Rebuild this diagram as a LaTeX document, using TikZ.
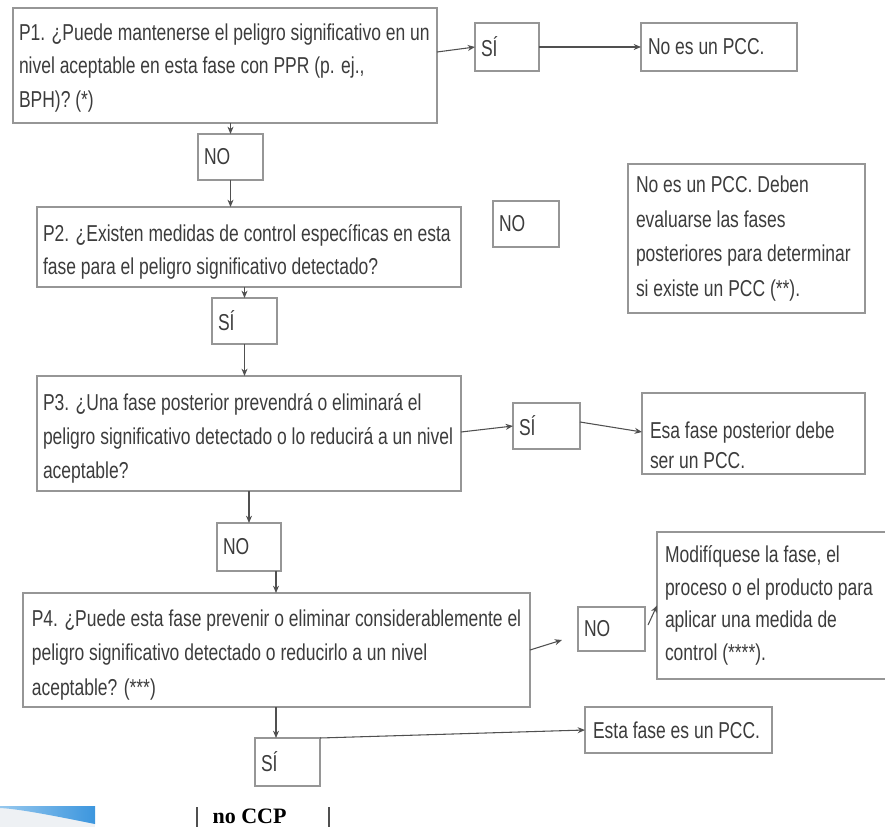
\documentclass[tikz,border=0pt]{standalone}
\usepackage{fontspec}
\setmainfont[FakeStretch=0.76]{Liberation Sans}
\newfontfamily\serifb{Liberation Serif}
\usetikzlibrary{arrows.meta,calc}
\definecolor{boxc}{RGB}{150,150,150}
\definecolor{txtc}{RGB}{60,60,60}
\definecolor{arrc}{RGB}{80,80,80}
\definecolor{swblue}{RGB}{60,150,222}
\definecolor{swlight}{RGB}{150,200,238}
\definecolor{swgray}{RGB}{238,241,244}
\begin{document}
\begin{tikzpicture}[x=0.75pt,y=-0.75pt,
  box/.style={draw=boxc, line width=0.9pt, inner sep=0pt, outer sep=0pt, fill=white, text=txtc,
    font=\fontsize{17.25}{25}\selectfont, align=flush left, anchor=north west},
  arr/.style={draw=arrc, line width=0.8pt, -{Stealth[length=5.5pt,width=4.5pt]}},
  bar/.style={draw=arrc, line width=1.3pt}]
\useasboundingbox (0,0) rectangle (885,827);
\clip (0,0) rectangle (885,827);

% boxes
\node[box, minimum width=318pt, minimum height=86.25pt, text width=309pt] (p1) at (13,8)
  {\mbox{\rule{0pt}{16pt}P1. ¿Puede mantenerse el peligro significativo en un}\\\mbox{nivel aceptable en esta fase con PPR (p. ej.,}\\\mbox{BPH)? (*)}};
\node[box, minimum width=48pt, minimum height=36pt, text width=39pt] (si1) at (475,23) {SÍ};
\node[box, minimum width=117pt, minimum height=36pt, text width=106.5pt] (pcc1) at (641,23) {\mbox{No es un PCC.}};
\node[box, minimum width=48.75pt, minimum height=34.5pt, text width=39.75pt] (no1) at (198,134) {NO};
\node[box, minimum width=318pt, minimum height=60pt, text width=309pt] (p2) at (37,207)
  {\mbox{\rule{0pt}{20pt}P2. ¿Existen medidas de control específicas en esta}\\\mbox{fase para el peligro significativo detectado?}};
\node[box, minimum width=49.5pt, minimum height=34.5pt, text width=40.5pt] (no2) at (493,201) {NO};
\node[box, minimum width=177.75pt, minimum height=111.75pt, text width=165.75pt, font=\fontsize{17.25}{26}\selectfont] (npcc) at (628,164)
  {\mbox{No es un PCC. Deben}\\\mbox{evaluarse las fases}\\\mbox{posteriores para determinar}\\\mbox{si existe un PCC (**).}};
\node[box, minimum width=48.75pt, minimum height=34.5pt, text width=39.75pt] (si2) at (212,298) {SÍ};
\node[box, minimum width=318pt, minimum height=86.25pt, text width=309pt, font=\fontsize{17.25}{25.5}\selectfont] (p3) at (37,376)
  {\mbox{\rule{0pt}{20pt}P3. ¿Una fase posterior prevendrá o eliminará el}\\\mbox{peligro significativo detectado o lo reducirá a un nivel}\\\mbox{aceptable?}};
\node[box, minimum width=50.25pt, minimum height=34.5pt, text width=41.25pt] (si3) at (513,403) {SÍ};
\node[box, minimum width=167.25pt, minimum height=60.75pt, text width=155.25pt, font=\fontsize{17.25}{22}\selectfont] (esa) at (642,393)
  {\mbox{\rule{0pt}{30pt}Esa fase posterior debe}\\\mbox{ser un PCC.}};
\node[box, minimum width=48pt, minimum height=36pt, text width=39pt] (no3) at (217,523) {NO};
\node[box, minimum width=380.25pt, minimum height=85.5pt, text width=367pt, font=\fontsize{17.25}{26}\selectfont] (p4) at (23,593)
  {\mbox{\rule{0pt}{20pt}P4. ¿Puede esta fase prevenir o eliminar considerablemente el}\\\mbox{peligro significativo detectado o reducirlo a un nivel}\\\mbox{aceptable? (***)}};
\node[box, minimum width=50.25pt, minimum height=33pt, text width=41.25pt] (no4) at (578,607) {NO};
\node[box, minimum width=174.75pt, minimum height=110.25pt, text width=162.75pt, font=\fontsize{17.25}{24.5}\selectfont] (mod) at (657,532)
  {\mbox{Modifíquese la fase, el}\\\mbox{proceso o el producto para}\\\mbox{aplicar una medida de}\\\mbox{control (****).}};
\node[box, minimum width=48.75pt, minimum height=36pt, text width=39.75pt] (si4) at (255,738) {SÍ};
\node[box, minimum width=140.25pt, minimum height=34.5pt, text width=128.25pt] (esta) at (585,707) {\mbox{Esta fase es un PCC.}};

% connectors
\draw[arr] ($(p1.north east)+(0,44)$) -- (si1.west);
\draw[arr] (si1.east) -- (pcc1.west);
\draw[arr] (no1.north |- p1.south) -- (no1.north);
\draw[arr] (no1.south) -- (no1.south |- p2.north);
\draw[arr] (si2.north |- p2.south) -- (si2.north);
\draw[arr] (si2.south) -- (si2.south |- p3.north);
\draw[arr] ($(p3.north east)+(0,56)$) -- (si3.west);
\draw[arr] ($(si3.north east)+(0,19)$) -- ($(esa.north west)+(0,39)$);
\draw[arr] (no3.north |- p3.south) -- (no3.north);
\coordinate (n3b) at ($(no3.south)+(27,0)$);
\draw[arr] (n3b) -- (n3b |- p4.north);
\coordinate (p4b) at (n3b |- p4.south);
\draw[arr] (p4b) -- (p4b |- si4.north);
\coordinate (n4in) at ($(no4.west)+(-16,11)$);
\draw[arr] ($(p4.north east)+(0,57)$) -- (n4in);
\draw[arr] ($(no4.east)+(3,-4)$) -- (mod.west);
\draw[arr] (si4.north east) -- (esta.west);

% bottom decoration
\fill[swgray] (0,806) rectangle (95,827);
\shade[left color=swlight, right color=swblue] (0,806) -- (95,806) -- (95,824)
  .. controls (55,816) and (20,809) .. (0,808) -- cycle;
\node[anchor=base, text=black, inner sep=0pt, font=\serifb\bfseries\fontsize{16.5}{18}\selectfont] (ccp) at (249.5,823) {no CCP};
\coordinate (barl) at (197,807);
\coordinate (barr) at (329,807);
\draw[bar] (barl) -- (barl |- 0,827);
\draw[bar] (barr) -- (barr |- 0,827);
\end{tikzpicture}
\end{document}
